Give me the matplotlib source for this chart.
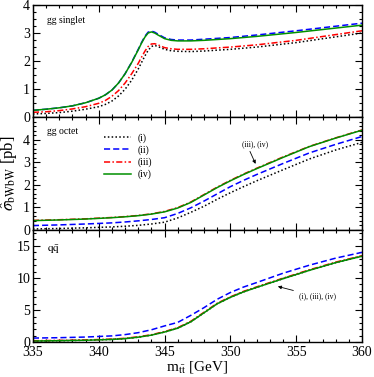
import numpy as np
import matplotlib
matplotlib.use("Agg")
import matplotlib.pyplot as plt
from matplotlib.ticker import MultipleLocator

plt.rcParams["font.family"] = ["Liberation Serif", "DejaVu Serif"]
plt.rcParams["mathtext.fontset"] = "stix"

# gg singlet
x_sing = [335, 336, 337, 338, 339, 340, 340.5, 341, 341.5, 342, 342.5, 343, 343.25, 343.5,
          343.75, 344, 344.25, 344.5, 345, 345.5, 346, 347, 348, 350, 352, 355, 360]
sing_i = [0.12, 0.14, 0.17, 0.22, 0.29, 0.38, 0.46, 0.58, 0.76, 1.00, 1.32, 1.72, 1.95, 2.18,
          2.38, 2.52, 2.56, 2.52, 2.42, 2.37, 2.35, 2.34, 2.36, 2.42, 2.50, 2.66, 3.00]
sing_ii = [0.25, 0.29, 0.34, 0.41, 0.52, 0.68, 0.80, 0.97, 1.22, 1.55, 1.96, 2.42, 2.66, 2.88,
           3.03, 3.07, 3.03, 2.96, 2.83, 2.77, 2.75, 2.75, 2.78, 2.84, 2.93, 3.08, 3.35]
sing_iii = [0.18, 0.20, 0.24, 0.30, 0.38, 0.50, 0.60, 0.75, 0.95, 1.22, 1.55, 1.92, 2.14, 2.35,
            2.52, 2.61, 2.62, 2.58, 2.48, 2.44, 2.42, 2.42, 2.44, 2.50, 2.58, 2.74, 3.08]
sing_iv = [0.25, 0.29, 0.34, 0.41, 0.52, 0.68, 0.80, 0.97, 1.22, 1.55, 1.95, 2.40, 2.64, 2.85,
           3.00, 3.04, 3.00, 2.93, 2.80, 2.74, 2.72, 2.72, 2.74, 2.80, 2.88, 3.02, 3.28]

# gg octet
x_oct = [335, 337, 339, 341, 342, 343, 344, 345, 346, 347, 348, 349, 350, 351, 352, 354, 356, 358, 360]
oct_i = [0.04, 0.06, 0.09, 0.13, 0.16, 0.20, 0.26, 0.34, 0.53, 0.78, 1.05, 1.36, 1.65, 1.92,
         2.18, 2.67, 3.15, 3.55, 3.89]
oct_ii = [0.19, 0.22, 0.26, 0.31, 0.35, 0.40, 0.46, 0.54, 0.73, 0.98, 1.28, 1.60, 1.92, 2.20,
          2.46, 2.95, 3.42, 3.80, 4.15]
oct_iii = [0.42, 0.45, 0.49, 0.55, 0.59, 0.64, 0.71, 0.82, 0.99, 1.24, 1.57, 1.90, 2.20, 2.48,
           2.74, 3.24, 3.71, 4.09, 4.44]
oct_iv = [0.41, 0.44, 0.48, 0.54, 0.58, 0.63, 0.70, 0.80, 0.97, 1.22, 1.55, 1.88, 2.18, 2.46,
          2.72, 3.22, 3.70, 4.08, 4.43]

# q qbar
x_qq = [335, 337, 339, 341, 342, 343, 344, 345, 346, 347, 348, 349, 350, 351, 352, 354, 356, 358, 360]
qq_i = [0.2, 0.25, 0.32, 0.45, 0.57, 0.80, 1.12, 1.60, 2.20, 3.20, 4.60, 6.00, 7.00, 7.85,
        8.55, 9.90, 11.20, 12.40, 13.40]
qq_ii = [0.66, 0.72, 0.82, 1.00, 1.20, 1.50, 1.95, 2.55, 3.10, 4.20, 5.40, 6.70, 7.75, 8.60,
         9.30, 10.75, 12.00, 13.10, 14.00]
qq_iii = [0.25, 0.30, 0.37, 0.50, 0.63, 0.86, 1.18, 1.67, 2.28, 3.28, 4.68, 6.08, 7.08, 7.93,
          8.63, 9.98, 11.28, 12.48, 13.48]
qq_iv = [0.2, 0.25, 0.32, 0.45, 0.57, 0.80, 1.12, 1.60, 2.20, 3.20, 4.60, 6.00, 7.00, 7.85,
         8.55, 9.90, 11.20, 12.40, 13.40]

labels = ["(i)", "(ii)", "(iii)", "(iv)"]
styles = [dict(color="black", ls=(0, (1, 1.5))),
          dict(color="#0000ff", ls=(0, (4, 2))),
          dict(color="#ff0000", ls=(0, (4, 1.5, 1, 1.5))),
          dict(color="#009000", ls="-")]

fig = plt.figure(figsize=(3.74, 3.77), dpi=100)
gs = fig.add_gridspec(3, 1, left=0.088, right=0.968, top=0.987, bottom=0.092, hspace=0)
axes = [fig.add_subplot(gs[i]) for i in range(3)]

panels = [
    (axes[0], x_sing, [sing_i, sing_ii, sing_iii, sing_iv]),
    (axes[1], x_oct, [oct_i, oct_ii, oct_iii, oct_iv]),
    (axes[2], x_qq, [qq_i, qq_ii, qq_iii, qq_iv]),
]
for ax, xs, ys in panels:
    for y, lab, st in zip(ys, labels, styles):
        ax.plot(xs, y, lw=1.1, label=lab, **st)
    ax.set_xlim(335, 360)
    ax.xaxis.set_major_locator(MultipleLocator(5))
    ax.xaxis.set_minor_locator(MultipleLocator(1))
    ax.tick_params(which="both", direction="in", top=True, right=True, labelsize=10, pad=2)
    ax.tick_params(which="major", length=5, width=0.8)
    ax.tick_params(which="minor", length=2.5, width=0.8)
    for s in ax.spines.values():
        s.set_linewidth(1.0)

ax1, ax2, ax3 = axes
ax1.set_ylim(0, 4)
ax1.set_yticks([0, 1, 2, 3, 4])
ax1.yaxis.set_minor_locator(MultipleLocator(0.25))
ax2.set_ylim(0, 5)
ax2.set_yticks([0, 1, 2, 3, 4])
ax2.yaxis.set_minor_locator(MultipleLocator(0.2))
ax3.set_ylim(0, 17.5)
ax3.set_yticks([0, 5, 10, 15])
ax3.yaxis.set_minor_locator(MultipleLocator(1))
ax1.tick_params(labelbottom=False)
ax2.tick_params(labelbottom=False)
ax3.tick_params(axis="x", pad=3)

ax1.text(0.043, 0.84, "gg singlet", transform=ax1.transAxes, fontsize=7)
ax2.text(0.043, 0.85, "gg octet", transform=ax2.transAxes, fontsize=7)
ax3.text(0.043, 0.80, r"$\mathrm{q\bar{q}}$", transform=ax3.transAxes, fontsize=8)

ax2.legend(loc="upper left", bbox_to_anchor=(0.2, 0.9), frameon=False, fontsize=7,
           handlelength=2.8, labelspacing=0.25, borderpad=0, handletextpad=0.7)

ax2.text(351.9, 3.65, "(iii), (iv)", fontsize=5.5, ha="center", va="bottom")
ax2.annotate("", xy=(352.0, 2.82), xytext=(351.4, 3.6),
             arrowprops=dict(arrowstyle="-|>", color="black", lw=0.6, mutation_scale=5))
ax3.annotate("(i), (iii), (iv)", xy=(353.4, 8.8), xytext=(355.2, 7.1), fontsize=5.5,
             ha="left", va="center",
             arrowprops=dict(arrowstyle="-|>", color="black", lw=0.6, mutation_scale=5))

ax2.set_ylabel(r"$\hat{\sigma}_{\mathrm{bWbW}}$ [pb]", fontsize=12, labelpad=2)
ax3.set_xlabel(r"m$_{\mathrm{t\bar{t}}}$ [GeV]", fontsize=11, labelpad=0)

fig.savefig("out.png", dpi=100)
